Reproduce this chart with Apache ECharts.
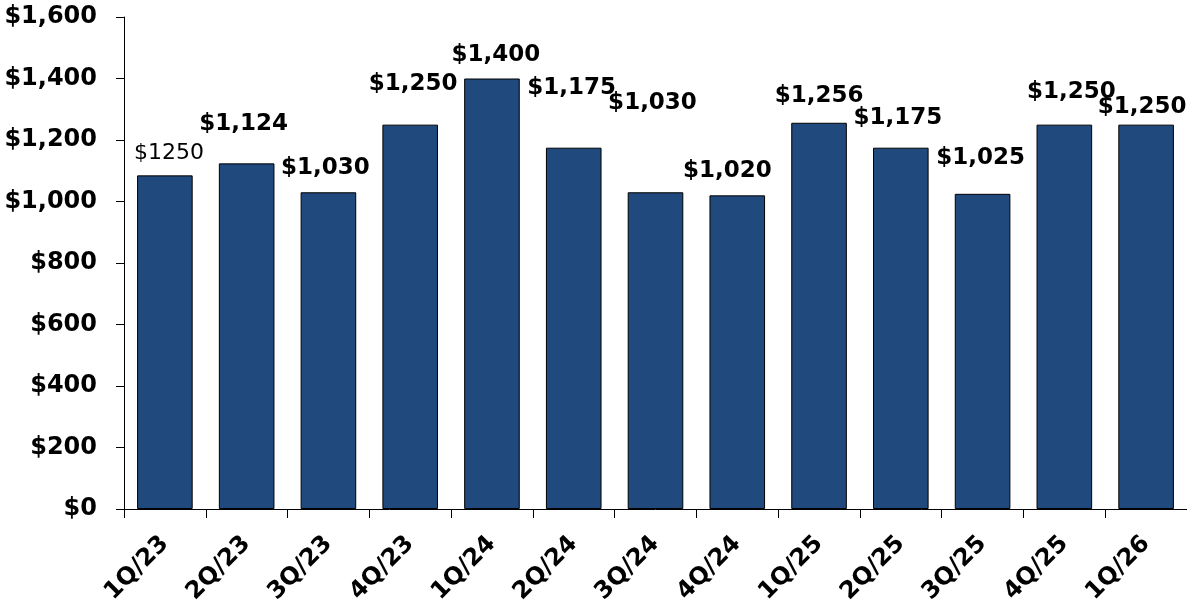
<!DOCTYPE html>
<html>
<head>
<meta charset="utf-8">
<script src="https://cdn.jsdelivr.net/npm/echarts@6/dist/echarts.min.js"></script>
<style>
  html, body { margin: 0; padding: 0; background: #fff; }
  #chart { width: 1187px; height: 610px; }
</style>
</head>
<body>
<div id="chart"></div>
<script>
// quarterly values
const quarters = ['1Q/23', '2Q/23', '3Q/23', '4Q/23', '1Q/24', '2Q/24', '3Q/24', '4Q/24', '1Q/25', '2Q/25', '3Q/25', '4Q/25', '1Q/26']
const values = [1085, 1124, 1030, 1250, 1400, 1175, 1030, 1020, 1256, 1175, 1025, 1250, 1250]
// text printed above each bar (first one does not match its bar in the original)
const labelTexts = ['$1250', '$1,124', '$1,030', '$1,250', '$1,400', '$1,175', '$1,030', '$1,020', '$1,256', '$1,175', '$1,025', '$1,250', '$1,250']
const yMin = 0
const yMax = 1600
const yStep = 200

// hand placed label nudges [dx, dy] in px
const labelNudge = [[4, -4], [-3, -21], [-3, -6], [3, -22], [4, -5], [-2, -41], [-3, -71], [-10, -6], [0, -8], [-3, -11], [-2, -17], [7, -14], [-4, 1]]

const font = 'DejaVu Sans'
const chart = echarts.init(document.getElementById('chart'))

const option = {
  backgroundColor: '#fff',
  animation: false,
  grid: { left: 124, right: 0, top: 17, bottom: 101, containLabel: false, outerBoundsMode: 'none' },
  xAxis: {
    type: 'category',
    data: quarters,
    axisLine: { show: true, lineStyle: { color: '#000', width: 1 } },
    axisTick: { show: true, alignWithLabel: false, length: 9, lineStyle: { color: '#000' } },
    axisLabel: {
      rotate: 45,
      interval: 0,
      margin: 31,
      color: '#000',
      fontFamily: font,
      fontWeight: 'bold',
      fontSize: 24,
    },
  },
  yAxis: {
    type: 'value',
    min: yMin,
    max: yMax,
    interval: yStep,
    splitLine: { show: false },
    axisLine: { show: true, lineStyle: { color: '#000', width: 1 } },
    axisTick: { show: true, length: 8, lineStyle: { color: '#000' } },
    axisLabel: {
      margin: 27,
      color: '#000',
      fontFamily: font,
      fontWeight: 'bold',
      fontSize: 24,
      formatter: v => '$' + v.toLocaleString('en-US'),
    },
  },
  series: [
    {
      type: 'bar',
      barCategoryGap: '32%',
      itemStyle: { color: '#20497D', borderColor: '#000', borderWidth: 1 },
      label: {
        show: true,
        position: 'top',
        distance: 5,
        color: '#000',
        fontFamily: font,
        fontWeight: 'bold',
        fontSize: 23,
        lineHeight: 27,
      },
      data: values.map((v, i) => ({
        value: v,
        label: Object.assign(
          { formatter: labelTexts[i], offset: labelNudge[i] },
          i === 0 ? { fontWeight: 'normal', fontSize: 22 } : {}
        ),
      })),
    },
  ],
}
chart.setOption(option)
</script>
</body>
</html>
